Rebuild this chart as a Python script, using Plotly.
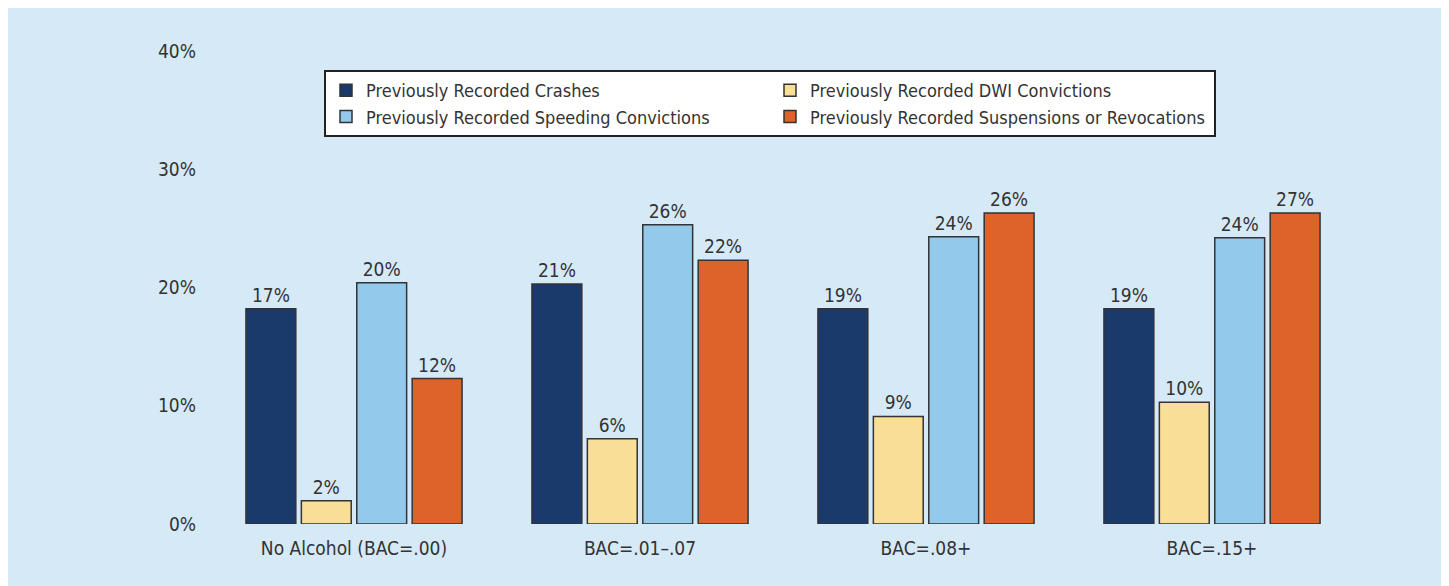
import plotly.graph_objects as go

categories = ["No Alcohol (BAC=.00)", "BAC=.01\u2013.07", "BAC=.08+", "BAC=.15+"]
series_names = [
    "Previously Recorded Crashes",
    "Previously Recorded DWI Convictions",
    "Previously Recorded Speeding Convictions",
    "Previously Recorded Suspensions or Revocations",
]
# bar heights as drawn (percent)
crashes = [18.2, 20.3, 18.2, 18.2]
dwi = [1.97, 7.2, 9.1, 10.3]
speeding = [20.4, 25.3, 24.3, 24.2]
suspensions = [12.3, 22.3, 26.3, 26.3]
# printed labels
crashes_lbl = ["17%", "21%", "19%", "19%"]
dwi_lbl = ["2%", "6%", "9%", "10%"]
speeding_lbl = ["20%", "26%", "24%", "24%"]
suspensions_lbl = ["12%", "22%", "26%", "27%"]
y_ticks = [0, 10, 20, 30, 40]
y_tick_labels = ["0%", "10%", "20%", "30%", "40%"]

colors = ["#1a3a6b", "#f9df95", "#93c9ea", "#de6328"]
values = [crashes, dwi, speeding, suspensions]
labels = [crashes_lbl, dwi_lbl, speeding_lbl, suspensions_lbl]

FONT = "DejaVu Sans Condensed, Liberation Sans Narrow, Arial Narrow, sans-serif"

fig = go.Figure()
for name, vals, lbl, col in zip(series_names, values, labels, colors):
    fig.add_trace(go.Bar(
        x=categories, y=vals, name=name, text=lbl,
        textposition="outside", texttemplate="%{text}",
        textfont=dict(family=FONT, size=19, color="#333333"),
        marker=dict(color=col, line=dict(color="#333333", width=1.5)),
        cliponaxis=False, constraintext="none", hoverinfo="skip",
    ))

# page body has an 8px margin: figure origin sits at screen (8, 8)
OFF = 8
W, H = 1449 - OFF, 586 - OFF
L = 211 - OFF
T = 51 - OFF
R = W - (1355 - OFF)
B = H - (524 - OFF)
pw = W - L - R
ph = H - T - B

fig.update_layout(
    width=W, height=H,
    margin=dict(l=L, r=R, t=T, b=B, pad=0),
    barmode="group", bargap=0.225, bargroupgap=0.1,
    paper_bgcolor="#d6e9f7", plot_bgcolor="rgba(0,0,0,0)",
    font=dict(family=FONT, size=19, color="#333333"),
    showlegend=True,
    legend=dict(
        orientation="h", x=(324 - OFF - L) / pw, y=(H - B - (70 - OFF)) / ph,
        xanchor="left", yanchor="top",
        bgcolor="#ffffff", bordercolor="#222222", borderwidth=2,
        entrywidth=399, entrywidthmode="pixels", traceorder="normal",
        font=dict(family=FONT, size=18, color="#333333"),
    ),
    xaxis=dict(showgrid=False, showline=False, zeroline=False, ticks="",
               ticklabelstandoff=11,
               tickfont=dict(family=FONT, size=19, color="#333333")),
    yaxis=dict(range=[0, 40], tickvals=y_ticks, ticktext=y_tick_labels,
               showgrid=False, showline=False, zeroline=False, ticks="",
               ticklabelstandoff=14,
               tickfont=dict(family=FONT, size=19, color="#333333")),
)

fig.write_html("out.html")
